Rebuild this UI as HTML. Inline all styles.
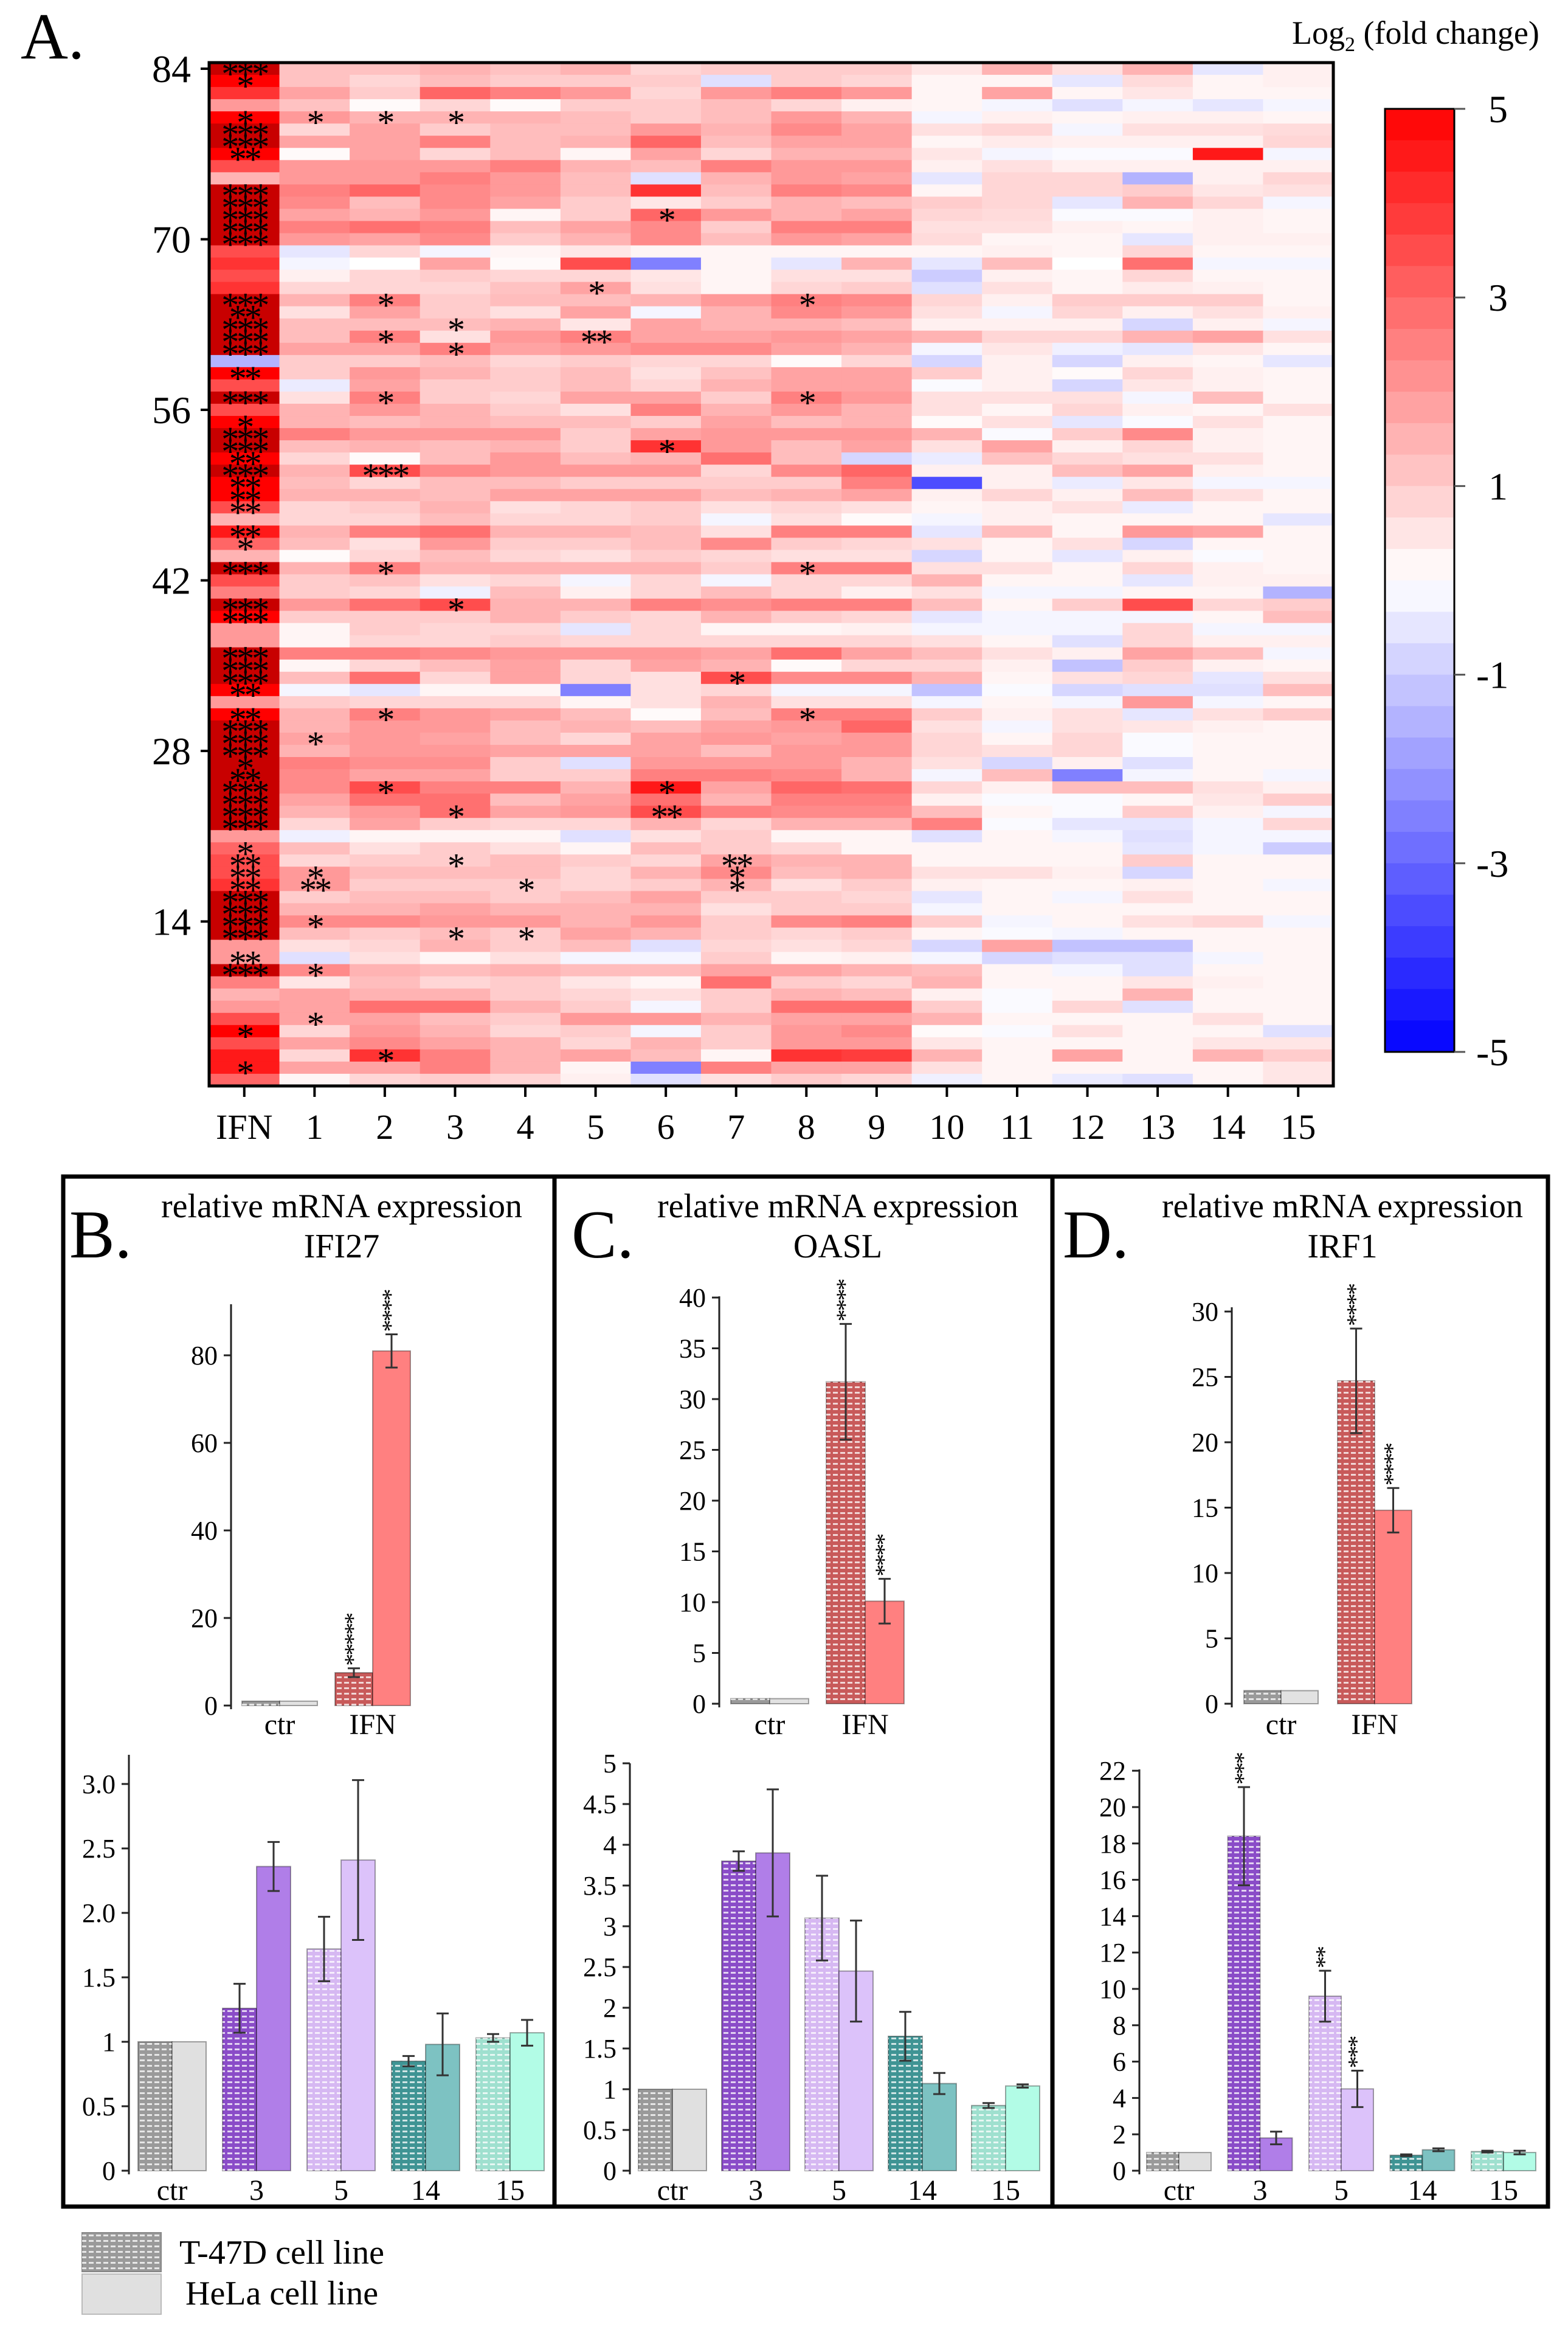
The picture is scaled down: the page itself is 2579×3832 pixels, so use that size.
<!DOCTYPE html>
<html><head><meta charset="utf-8"><style>
html,body{margin:0;padding:0;background:#fff;}
svg{display:block;font-family:"Liberation Serif",serif;}
</style></head><body>
<svg id="fig" xmlns="http://www.w3.org/2000/svg" width="2579" height="3832" viewBox="0 0 2579 3832">
<defs>
<pattern id="hatch" width="12" height="9" patternUnits="userSpaceOnUse">
<rect x="2" y="3" width="8" height="3" fill="#fff" opacity="0.75"/>
</pattern>
</defs>
<rect width="2579" height="3832" fill="#fff"/>
<text x="34" y="96" font-size="108">A.</text>
<text x="2125" y="72" font-size="54">Log<tspan font-size="34" dy="12">2</tspan><tspan dy="-12"> (fold change)</tspan></text>
<g id="heat"></g>
<g id="cbar"></g>
<rect x="104" y="1935" width="808" height="1694" fill="none" stroke="#000" stroke-width="7"/>
<rect x="912" y="1935" width="819" height="1694" fill="none" stroke="#000" stroke-width="7"/>
<rect x="1731" y="1935" width="815" height="1694" fill="none" stroke="#000" stroke-width="7"/>
<text x="114" y="2068" font-size="112">B.</text>
<text x="562" y="2002" font-size="56" text-anchor="middle">relative mRNA expression</text>
<text x="562" y="2068" font-size="56" text-anchor="middle">IFI27</text>
<text x="940" y="2068" font-size="112">C.</text>
<text x="1378" y="2002" font-size="56" text-anchor="middle">relative mRNA expression</text>
<text x="1378" y="2068" font-size="56" text-anchor="middle">OASL</text>
<text x="1748" y="2068" font-size="112">D.</text>
<text x="2208" y="2002" font-size="56" text-anchor="middle">relative mRNA expression</text>
<text x="2208" y="2068" font-size="56" text-anchor="middle">IRF1</text>
<g id="bars"></g>
<g>
<rect x="135" y="3672" width="130" height="64" fill="#9a9a9a" stroke="#888" stroke-width="2"/>
<rect x="135" y="3672" width="130" height="64" fill="url(#hatch)"/>
<rect x="135" y="3740" width="130" height="66" fill="#e0e0e0" stroke="#bbb" stroke-width="2"/>
<text x="295" y="3723" font-size="56">T-47D cell line</text>
<text x="305" y="3790" font-size="56">HeLa cell line</text>
</g>
</svg>
<script>
const heatColumns = ["IFN","1","2","3","4","5","6","7","8","9","10","11","12","13","14","15"];
const heatRowTicks = [84,70,56,42,28,14];
const colorbarTicks = [5,3,1,-1,-3,-5];
const heatValues = [
[6,1.2,1.2,1.5,1.2,1.5,0.8,1,1,1,0.5,1.5,0.6,1.5,-0.5,0.3],
[5,1.2,0.8,1.3,1,1,1,-0.6,1,0.8,0.2,0.2,-0.5,0.7,0.2,0.3],
[4,1.8,1,3,2.5,2,0.8,2,2.5,2,0.2,1.8,0.2,0.5,0.2,0.2],
[2,1.2,0.1,0.8,0.1,1,1,1.3,0.8,0.3,0.2,-0.2,-0.6,-0.2,-0.5,-0.2],
[5,2,1.5,1.5,1.5,1.3,1,1.3,2,1.5,-0.2,0.3,0.2,0.3,0.3,0.2],
[6,0.8,1.8,1,1.3,1.3,2,1.5,2.3,1.8,0.6,0.8,-0.2,0.6,0.6,0.7],
[6,1.8,1.8,2.5,1.3,1.5,3,1.3,1.8,1.8,0.2,0.4,0.3,0.3,0.3,0.8],
[5,0.1,1.8,0.8,1.3,0.2,1.8,0.8,1.5,1.5,0.5,-0.2,-0.1,-0.1,4.5,-0.2],
[3.5,2,2,2,2.5,1.5,1.3,2.5,2,2,0.3,0.6,0.3,0.3,0.3,0.3],
[1.5,2,2,2.5,2,1.3,-0.6,1.5,2,1.8,-0.5,0.8,0.8,-1.5,0.3,0.8],
[6,2.5,3,2.3,2,1.3,4,1.3,2.5,2.3,0.2,0.8,0.8,1,0.5,0.6],
[6,2.3,1.3,2.3,1.8,1,0.5,1,1.5,1.3,1,0.8,-0.5,1.5,0.8,-0.2],
[6,1.8,1.5,2,0.2,1,3,2,1.5,1.8,0.8,0.7,-0.1,-0.1,0.3,0.2],
[6,2.5,2.8,2.5,1.3,1.8,2.3,1,2.5,2.5,0.6,0.6,0.3,0.2,0.3,0.2],
[6,2,1.8,2.3,1,1.5,2.3,1.3,2,1.8,0.7,0.2,0.2,-0.5,0.3,0.3],
[3.5,-0.5,0.8,-0.2,0.2,0.5,0.2,0.2,0.2,0.2,0.2,0.3,0.2,0.8,0.2,0.2],
[4,-0.2,0,1.8,0.1,3.5,-2.5,0.2,-0.5,1.5,-0.5,1.3,0,2.8,-0.2,-0.2],
[3.5,0.3,0.8,1,0.8,0.8,0.5,0.2,0.6,0.6,-1,0.3,0.2,0.8,0.2,0.2],
[4,0.8,0.8,0.8,1.2,1.8,0.6,0.2,0.8,1,-0.6,0.6,0.2,0.4,0.3,0.2],
[6,1.5,2.5,1,1.3,1.3,1.5,2,2.5,2.3,0.8,0.3,1,1,1,0.2],
[6,0.6,1.8,1,0.6,1.8,-0.2,1.5,2.3,2,0.6,-0.2,0.8,0.3,0.6,0.3],
[6,1.3,1.3,1.3,1.5,0.5,1.8,1.5,1.5,1.3,0.3,0.3,0.3,-0.8,0.3,-0.2],
[6,1.3,2.5,0.6,2,2.5,1.8,1.8,2,1.8,1.5,0.8,0.8,1.5,1.8,0.6],
[6,1.8,1.8,2.5,1.8,2,2.3,2.3,1.8,1.5,-0.2,0.5,-0.3,-0.5,0.5,0.2],
[-1.5,1,1,1.3,0.8,1,0.8,0.8,0.1,0.8,-0.8,0.3,-0.8,0.3,0.2,-0.5],
[5,1,2,1.5,1,1.3,0.6,1.2,1.8,1.8,1,0.3,0.1,0.8,0.3,0.2],
[3.5,-0.4,1.8,1,1,1.3,0.8,1.5,1.8,1.8,-0.1,0.3,-0.8,0.5,0.3,0.2],
[6,0.6,2.5,1,0.8,1.8,1.8,1,2.5,2,0.6,0.6,0.6,-0.2,1.3,0.2],
[3.5,1.5,2,1.5,1,0.6,2.5,1.5,2,1.5,0.6,0.2,0.8,0.3,0.2,0.6],
[5,1.5,1.3,1.5,1.3,1.3,1,1.8,1.3,1.5,0.1,0.6,-0.5,-0.1,0.6,0.2],
[6,2.5,2,2,2,1,1.8,2,2,2,1.5,-0.1,1,2.3,0.3,0.2],
[6,1.3,1.5,1.3,1.5,1,4,2,1.3,1.8,0.6,1.8,0.3,0.8,0.3,0.2],
[5,0.8,0.1,1.3,2,1.3,1.5,2.8,1.3,-0.8,-0.4,1.2,0.8,0.6,0.6,0.2],
[6,1.5,3.5,2.3,2,2,2,0.8,2.3,3,0.3,0.3,1.3,1.8,0.3,0.2],
[5,1.3,0.8,1.3,1.3,1,1,1,1,2.5,-3.5,0.3,-0.4,0.5,-0.2,-0.2],
[5,1.5,1.5,1.3,1.8,1.8,1.8,1.3,1.5,1.8,0.3,0.8,0.3,1.3,0.6,0.2],
[3.5,0.8,1,1.5,0.6,0.8,1,0.6,0.8,0.6,0.2,0.3,0.6,-0.4,0.2,0.2],
[1.5,0.8,0.8,1.3,0.8,0.8,1,-0.2,0.6,0.1,-0.2,0.3,0.2,0.2,0.2,-0.5],
[4.5,1.5,2.5,2.8,1.5,1.5,1.3,0.6,2.5,2.5,-0.5,1.3,0.2,2,1.8,0.2],
[3,1.3,0.6,2,1,1,1.3,2.3,1,0.8,0.6,0.2,0.6,-0.8,0.2,0.2],
[1.5,0.1,0.8,1.3,0.8,0.6,1,0.8,0.6,0.6,-0.8,0.2,-0.5,0.3,-0.1,0.2],
[6,1.5,2.5,1.5,1.5,1.5,1.5,1,2.5,2.5,0.6,0.6,0.2,0.8,0.3,0.2],
[3.5,1,1.2,0.6,0.8,-0.2,0.8,-0.2,0.8,0.8,1.5,0.2,0.2,-0.5,0.3,0.3],
[2.5,1,0.8,-0.3,1.3,0.3,0.8,1.3,0.8,0.3,0.6,-0.2,-0.2,0.2,0.2,-1.5],
[6,2,2.8,3.5,1.5,1.5,2.5,2.2,2.5,2.5,1.3,0.2,1,3.5,0.8,1],
[5,1,1,1,1.5,1,0.8,1.5,1,0.8,-0.5,-0.2,-0.2,-0.2,0.2,1.3],
[2,0.2,1,0.8,0.8,-0.5,0.8,0.2,0.2,0.3,-0.2,-0.2,-0.2,0.8,-0.2,-0.2],
[2,0.2,0.8,0.8,1,0.8,0.8,0.8,0.8,0.8,0.6,0.2,-0.6,0.8,0.3,0.3],
[6,2.5,2.5,2.3,2,2,2,1.8,2.8,1.8,1.3,0.6,0.3,1.8,1.3,-0.2],
[6,0.2,0.8,1.3,1.8,0.8,1.8,1.5,0.1,0.8,0.8,0.3,-1.2,1,0.3,0.2],
[6,1.3,2.8,0.8,1.8,0.8,0.6,3.5,2.3,2.3,1.5,0.2,0.6,0.8,-0.5,0.6],
[5,-0.2,-0.5,0.2,0.2,-2.5,0.6,0.8,-0.2,-0.2,-1.2,-0.1,-0.8,-0.6,-0.6,1.3],
[2,1,0.8,0.8,0.8,0.2,0.6,1.5,0.6,0.6,-0.2,0.2,-0.2,2,-0.2,0.2],
[5,1.5,2.5,2,1.8,1.3,0.1,1.3,2.5,2.5,1,0.3,0.6,-0.5,0.6,1],
[6,1.5,2,2,1.3,1.5,1.3,1.8,2,3,0.6,-0.2,0.6,0.5,0.3,0.2],
[6,1.8,2,1.8,1.3,0.8,1.8,2,1.8,2,0.8,0.2,0.8,-0.1,0.2,0.2],
[6,1.5,2,2,1.8,1.8,1.8,1.3,2,2,0.8,0.6,0.8,-0.1,0.2,0.2],
[6,2.5,2.2,2.2,1,-0.6,2,2,2,1.5,0.6,-0.8,0.3,-0.6,0.2,0.2],
[6,2.3,1.8,1.8,1,1,2.5,2.5,2.3,1.5,-0.2,1.3,-2.5,-0.2,0.2,-0.2],
[6,2.3,3.5,2.5,2.5,1.5,4.5,1.8,3,2.8,0.8,0.3,1.3,1.3,0.6,0.3],
[6,1.8,2.8,2.8,1.3,1.8,2.8,1.5,2.5,2.5,0.3,-0.1,-0.1,0.2,0.5,1],
[6,1.5,2,2.8,1.8,2,3.5,2.5,2.3,2.3,1.3,0.2,-0.1,1,0.3,-0.2],
[6,0.8,1.8,1,0.8,0.8,1.5,0.8,1.5,1.5,2.5,-0.1,-0.5,-0.5,-0.2,0.8],
[2,-0.3,0.2,0.2,0.2,-0.6,0.6,1,0.2,0.2,-0.6,0.2,-0.2,-0.6,-0.2,-0.2],
[3,1.3,0.6,1,0.6,0.2,1.3,1,0.8,0.2,0.2,0.2,0.2,-0.5,-0.2,-1],
[3.5,0.8,1,1,1.3,1,0.8,1.8,1.5,1.5,0.2,0.2,0.2,1,0.2,0.2],
[3.5,2,1.3,1.3,1.3,0.8,1.5,2.3,1.3,1.5,0.6,0.6,0.3,-0.8,0.2,0.2],
[4,2,1,1,1,0.8,1,1.5,0.6,1,0.3,0.2,0.2,0.3,0.2,-0.2],
[6,1,1.3,1.3,1,1.3,1.8,1,1,0.8,-0.5,0.2,-0.2,0.6,0.2,0.2],
[6,1.5,1.5,1.8,1.5,1.5,1.5,0.6,1,1,-0.2,0.2,0.2,0.2,0.2,0.2],
[6,2.3,2.3,2,2,1.5,2,1,2.3,2.5,1,-0.2,0.2,0.6,0.8,-0.2],
[6,1.3,1,1.3,1,1.8,1.5,1,0.8,1,0.2,-0.1,-0.2,0.2,0.2,0.2],
[2,0.6,0.8,1.5,1,1.3,-0.6,0.8,0.6,0.8,-0.8,1.8,-1.2,-1.2,0.2,0.2],
[2,-0.6,0.6,0.2,0.6,-0.2,-0.2,1,0.2,0.3,-0.2,-0.8,-0.6,-0.6,-0.2,0.2],
[6,2.3,1.5,1.3,1.5,1.3,1.3,1.8,1.8,1.5,1.3,0.2,-0.2,-0.6,0.2,0.2],
[2.5,0.5,1.3,0.8,1,0.5,0.2,2.8,1,0.8,1.5,0.2,0.2,0.5,0.3,0.2],
[1.5,1.8,1.5,1.5,1,0.8,0.6,1,1.5,1.3,0.3,-0.1,0.2,1.5,0.2,0.2],
[2,1.8,2.8,2.8,1.5,1,-0.2,1,2.8,2.8,1,-0.1,0.8,-0.6,0.2,0.2],
[3.5,1.8,1.8,1.3,1,2,2,1.5,1.8,1.8,1.5,0.2,0.2,0.2,0.6,0.2],
[5,0.8,2,1.5,0.8,1,-0.2,1,2,2.3,0.1,-0.1,0.6,0.2,0.2,-0.6],
[3.5,1.8,2.3,1.8,1.5,0.8,1.5,1,2,2,0.5,0.2,0.2,0.2,0.5,0.5],
[4.5,0.8,4,2.5,1.5,1.8,1.3,0.2,4,3.8,1.5,0.2,1.8,0.2,1.5,1],
[4.5,1.8,1.8,2.5,1.5,0.2,-2.5,2.5,1.8,1.8,0.6,0.2,0.2,0.2,0.2,0.5],
[3,0.2,0.8,1,0.8,0.3,-0.6,0.6,1,0.8,-0.3,0.2,-0.4,-0.6,0.2,0.5]
];
const heatStars = [
[0,0,"***"],[1,0,"*"],[4,0,"*"],[5,0,"***"],[6,0,"***"],[7,0,"**"],[10,0,"***"],[11,0,"***"],[12,0,"***"],[13,0,"***"],[14,0,"***"],
[19,0,"***"],[20,0,"**"],[21,0,"***"],[22,0,"***"],[23,0,"***"],[25,0,"**"],[27,0,"***"],[29,0,"*"],[30,0,"***"],[31,0,"***"],
[32,0,"**"],[33,0,"***"],[34,0,"**"],[35,0,"**"],[36,0,"**"],[38,0,"**"],[39,0,"*"],[41,0,"***"],[44,0,"***"],[45,0,"***"],
[48,0,"***"],[49,0,"***"],[50,0,"***"],[51,0,"**"],[53,0,"**"],[54,0,"***"],[55,0,"***"],[56,0,"***"],[57,0,"*"],[58,0,"**"],
[59,0,"***"],[60,0,"***"],[61,0,"***"],[62,0,"***"],[64,0,"*"],[65,0,"**"],[66,0,"**"],[67,0,"**"],[68,0,"***"],[69,0,"***"],
[70,0,"***"],[71,0,"***"],[73,0,"**"],[74,0,"***"],[79,0,"*"],[82,0,"*"],
[4,1,"*"],[4,2,"*"],[4,3,"*"],[12,6,"*"],[18,5,"*"],[19,2,"*"],[19,8,"*"],[21,3,"*"],[22,2,"*"],[22,5,"**"],[23,3,"*"],
[27,2,"*"],[27,8,"*"],[31,6,"*"],[33,2,"***"],[41,2,"*"],[41,8,"*"],[44,3,"*"],[50,7,"*"],[53,2,"*"],[53,8,"*"],[55,1,"*"],
[59,2,"*"],[59,6,"*"],[61,3,"*"],[61,6,"**"],[65,3,"*"],[65,7,"**"],[66,1,"*"],[66,7,"*"],[67,1,"**"],[67,4,"*"],[67,7,"*"],
[70,1,"*"],[71,3,"*"],[71,4,"*"],[74,1,"*"],[78,1,"*"],[81,2,"*"]
];

/* bar chart data */
const bTopCats = ["ctr","IFN"];
const bTopT47D = [1,7.5];
const bTopT47DErr = [0,1];
const bTopHeLa = [1,81];
const bTopHeLaErr = [0,3.8];
const bTopStarsT47D = ["","*****"];
const bTopStarsHeLa = ["","****"];
const bTopTicks = [0,20,40,60,80];

const cTopCats = ["ctr","IFN"];
const cTopT47D = [0.5,31.7];
const cTopT47DErr = [0,5.7];
const cTopHeLa = [0.5,10.1];
const cTopHeLaErr = [0,2.2];
const cTopStarsT47D = ["","****"];
const cTopStarsHeLa = ["","****"];
const cTopTicks = [0,5,10,15,20,25,30,35,40];

const dTopCats = ["ctr","IFN"];
const dTopT47D = [1,24.7];
const dTopT47DErr = [0,4];
const dTopHeLa = [1,14.8];
const dTopHeLaErr = [0,1.7];
const dTopStarsT47D = ["","****"];
const dTopStarsHeLa = ["","****"];
const dTopTicks = [0,5,10,15,20,25,30];

const botCats = ["ctr","3","5","14","15"];
const bBotT47D = [1,1.26,1.72,0.85,1.03];
const bBotT47DErr = [0,0.19,0.25,0.04,0.03];
const bBotHeLa = [1,2.36,2.41,0.98,1.07];
const bBotHeLaErr = [0,0.19,0.62,0.24,0.1];
const bBotTicks = [0,0.5,1,1.5,2,2.5,3];
const bBotTickLabels = ["0","0.5","1","1.5","2.0","2.5","3.0"];

const cBotT47D = [1,3.8,3.1,1.65,0.8];
const cBotT47DErr = [0,0.12,0.52,0.3,0.03];
const cBotHeLa = [1,3.9,2.45,1.07,1.04];
const cBotHeLaErr = [0,0.78,0.62,0.13,0.02];
const cBotTicks = [0,0.5,1,1.5,2,2.5,3,3.5,4,4.5,5];
const cBotTickLabels = ["0","0.5","1","1.5","2","2.5","3","3.5","4","4.5","5"];

const dBotT47D = [1,18.4,9.6,0.85,1.05];
const dBotT47DErr = [0,2.7,1.4,0.05,0.05];
const dBotHeLa = [1,1.8,4.5,1.15,1.0];
const dBotHeLaErr = [0,0.35,1,0.08,0.1];
const dBotStarsT47D = ["","***","**","",""];
const dBotStarsHeLa = ["","","***","",""];
const dBotTicks = [0,2,4,6,8,10,12,14,16,18,20,22];

const NS = "http://www.w3.org/2000/svg";
function mk(tag, attrs, parent) {
  const e = document.createElementNS(NS, tag);
  for (const k in attrs) e.setAttribute(k, attrs[k]);
  parent.appendChild(e);
  return e;
}
function heatColor(v) {
  let r, g, b;
  if (v >= 0) {
    if (v > 5) { r = Math.round(255 - 55 * Math.min(v - 5, 1)); g = 0; b = 0; }
    else { const t = v / 5; r = 255; g = Math.round(255 * (1 - t)); b = g; }
  } else {
    const t = Math.min(-v, 5) / 5; b = 255; r = Math.round(255 * (1 - t)); g = r;
  }
  return `rgb(${r},${g},${b})`;
}

/* ---------- heatmap ---------- */
const HX0 = 344, HX1 = 2193, HY0 = 103, HY1 = 1786;
const nRows = heatValues.length, nCols = heatColumns.length;
const colW = (HX1 - HX0) / nCols, rowH = (HY1 - HY0) / nRows;
const xCol = c => HX0 + c * colW;
const yRow = r => HY0 + r * rowH;
const heat = document.getElementById('heat');
heatValues.forEach((row, r) => {
  row.forEach((v, c) => {
    const cell = mk('rect', {x: xCol(c).toFixed(2), y: yRow(r).toFixed(2), width: (colW + 0.6).toFixed(2), height: (rowH + 0.6).toFixed(2), fill: heatColor(v)}, heat);
    
    
  });
});
heatStars.forEach(s => {
  const cy = yRow(s[0]) + rowH / 2;
  const t = mk('text', {x: (xCol(s[1]) + colW / 2).toFixed(1), y: (cy + 28).toFixed(1), 'font-size': 58, 'text-anchor': 'middle', 'letter-spacing': '-4'}, heat);
  t.textContent = s[2];
  
  
});
const hb = mk('rect', {x: HX0, y: HY0, width: HX1 - HX0, height: HY1 - HY0, fill: 'none', stroke: '#000', 'stroke-width': 5}, heat);


heatRowTicks.forEach(k => {
  const y = yRow(nRows - k) + rowH / 2;
  const tk = mk('line', {x1: HX0 - 14, x2: HX0, y1: y, y2: y, stroke: '#000', 'stroke-width': 4}, heat);
  
  
  const lb = mk('text', {x: HX0 - 30, y: y + 22, 'font-size': 64, 'text-anchor': 'end'}, heat);
  lb.textContent = k;
  
  
});
heatColumns.forEach((name, c) => {
  const x = xCol(c) + colW / 2;
  const tk = mk('line', {x1: x, x2: x, y1: HY1, y2: HY1 + 18, stroke: '#000', 'stroke-width': 4}, heat);
  
  
  const lb = mk('text', {x: x, y: 1873, 'font-size': 58, 'text-anchor': 'middle'}, heat);
  lb.textContent = name;
  
  
});

/* ---------- colorbar ---------- */
const CX0 = 2278, CX1 = 2392, CY0 = 179, CY1 = 1730;
const cbY = v => CY0 + (5 - v) / 10 * (CY1 - CY0);
const cbar = document.getElementById('cbar');
const steps = 30;
for (let i = 0; i < steps; i++) {
  const vTop = 5 - i * 10 / steps, vMid = vTop - 5 / steps;
  const band = mk('rect', {x: CX0, y: cbY(vTop).toFixed(2), width: CX1 - CX0, height: ((CY1 - CY0) / steps + 0.6).toFixed(2), fill: heatColor(vMid)}, cbar);
  
  
}
const cbf = mk('rect', {x: CX0, y: CY0, width: CX1 - CX0, height: CY1 - CY0, fill: 'none', stroke: '#000', 'stroke-width': 3}, cbar);


colorbarTicks.forEach(v => {
  const y = cbY(v);
  const tk = mk('line', {x1: CX1, x2: CX1 + 18, y1: y, y2: y, stroke: '#555', 'stroke-width': 3}, cbar);
  
  
  const lb = mk('text', {x: v < 0 ? 2428 : 2448, y: y + 22, 'font-size': 64}, cbar);
  lb.textContent = v;
  
  
});

/* ---------- bar charts ---------- */
const barsG = document.getElementById('bars');
function drawChart(o) {
  const g = mk('g', {}, barsG);
  
  
  const yS = v => o.zero - v * o.ppu;
  const xS = i => o.x0 + i * o.step;
  const ax = mk('line', {x1: o.axisX, x2: o.axisX, y1: o.axisTop, y2: o.zero + 6, stroke: '#222', 'stroke-width': 3}, g);
  
  
  o.ticks.forEach((t, i) => {
    const y = yS(t);
    const tk = mk('line', {x1: o.axisX - 12, x2: o.axisX, y1: y, y2: y, stroke: '#222', 'stroke-width': 3}, g);
    
    
    const lb = mk('text', {x: o.axisX - 22, y: y + 15, 'font-size': 44, 'text-anchor': 'end'}, g);
    lb.textContent = o.tickLabels ? o.tickLabels[i] : t;
    
    
  });
  o.cats.forEach((cat, i) => {
    const cx = xS(i);
    const cols = o.colors[i];
    [[o.t47d, o.t47dErr, cx - o.bw, cols[0], true, o.starsT], [o.hela, o.helaErr, cx, cols[1], false, o.starsH]].forEach(s => {
      const v = s[0][i], e = s[1][i], x = s[2];
      const top = yS(v);
      const b = mk('rect', {x: x, y: top, width: o.bw, height: o.zero - top, fill: s[3], stroke: 'rgba(0,0,0,0.35)', 'stroke-width': 2}, g);
      
      
      if (s[4]) {
        const p = mk('rect', {x: x, y: top, width: o.bw, height: o.zero - top, fill: 'url(#hatch)'}, g);
        
        
      }
      let errTop = top;
      if (e > 0) {
        const xm = x + o.bw / 2, y1 = yS(v + e), y2 = yS(v - e);
        errTop = y1;
        const eb = mk('path', {d: `M${xm},${y1}V${y2}M${xm - 10},${y1}H${xm + 10}M${xm - 10},${y2}H${xm + 10}`, stroke: '#333', 'stroke-width': 3, fill: 'none'}, g);
        
        
      }
      if (s[5] && s[5][i]) {
        const xm = x + o.bw / 2 + 12;
        const st = mk('text', {x: xm, y: errTop - 4, 'font-size': 40, transform: `rotate(-90 ${xm} ${errTop - 4})`, 'letter-spacing': '-3'}, g);
        st.textContent = s[5][i];
        
        
      }
    });
    const lb = mk('text', {x: cx, y: o.labelY, 'font-size': 48, 'text-anchor': 'middle'}, g);
    lb.textContent = cat;
    
    
  });
}
const topColors = [["#9a9a9a", "#e2e2e2"], ["#c85a5a", "#ff8080"]];
const botColors = [["#9a9a9a", "#e0e0e0"], ["#8a4cc8", "#b07ee8"], ["#d6b8f2", "#dcc2fa"], ["#3f9494", "#7dc2c2"], ["#9fe0cf", "#b2fce6"]];

drawChart({name: 'ifi27-top-chart', axisX: 380, axisTop: 2145, zero: 2805, ppu: 7.2, x0: 460, step: 153, bw: 62, labelY: 2852,
  cats: bTopCats, t47d: bTopT47D, t47dErr: bTopT47DErr, hela: bTopHeLa, helaErr: bTopHeLaErr, starsT: bTopStarsT47D, starsH: bTopStarsHeLa, ticks: bTopTicks, colors: topColors});
drawChart({name: 'oasl-top-chart', axisX: 1183, axisTop: 2132, zero: 2802, ppu: 16.7, x0: 1266, step: 157, bw: 64, labelY: 2852,
  cats: cTopCats, t47d: cTopT47D, t47dErr: cTopT47DErr, hela: cTopHeLa, helaErr: cTopHeLaErr, starsT: cTopStarsT47D, starsH: cTopStarsHeLa, ticks: cTopTicks, colors: topColors});
drawChart({name: 'irf1-top-chart', axisX: 2026, axisTop: 2150, zero: 2802, ppu: 21.5, x0: 2107, step: 154, bw: 61, labelY: 2852,
  cats: dTopCats, t47d: dTopT47D, t47dErr: dTopT47DErr, hela: dTopHeLa, helaErr: dTopHeLaErr, starsT: dTopStarsT47D, starsH: dTopStarsHeLa, ticks: dTopTicks, colors: topColors});
drawChart({name: 'ifi27-bottom-chart', axisX: 212, axisTop: 2886, zero: 3570, ppu: 212, x0: 283, step: 139, bw: 56, labelY: 3618,
  cats: botCats, t47d: bBotT47D, t47dErr: bBotT47DErr, hela: bBotHeLa, helaErr: bBotHeLaErr, ticks: bBotTicks, tickLabels: bBotTickLabels, colors: botColors});
drawChart({name: 'oasl-bottom-chart', axisX: 1036, axisTop: 2900, zero: 3570, ppu: 134, x0: 1106, step: 137, bw: 56, labelY: 3618,
  cats: botCats, t47d: cBotT47D, t47dErr: cBotT47DErr, hela: cBotHeLa, helaErr: cBotHeLaErr, ticks: cBotTicks, tickLabels: cBotTickLabels, colors: botColors});
drawChart({name: 'irf1-bottom-chart', axisX: 1874, axisTop: 2910, zero: 3570, ppu: 29.9, x0: 1939, step: 133.5, bw: 53, labelY: 3618,
  cats: botCats, t47d: dBotT47D, t47dErr: dBotT47DErr, hela: dBotHeLa, helaErr: dBotHeLaErr, starsT: dBotStarsT47D, starsH: dBotStarsHeLa, ticks: dBotTicks, colors: botColors});
</script>
</body></html>
